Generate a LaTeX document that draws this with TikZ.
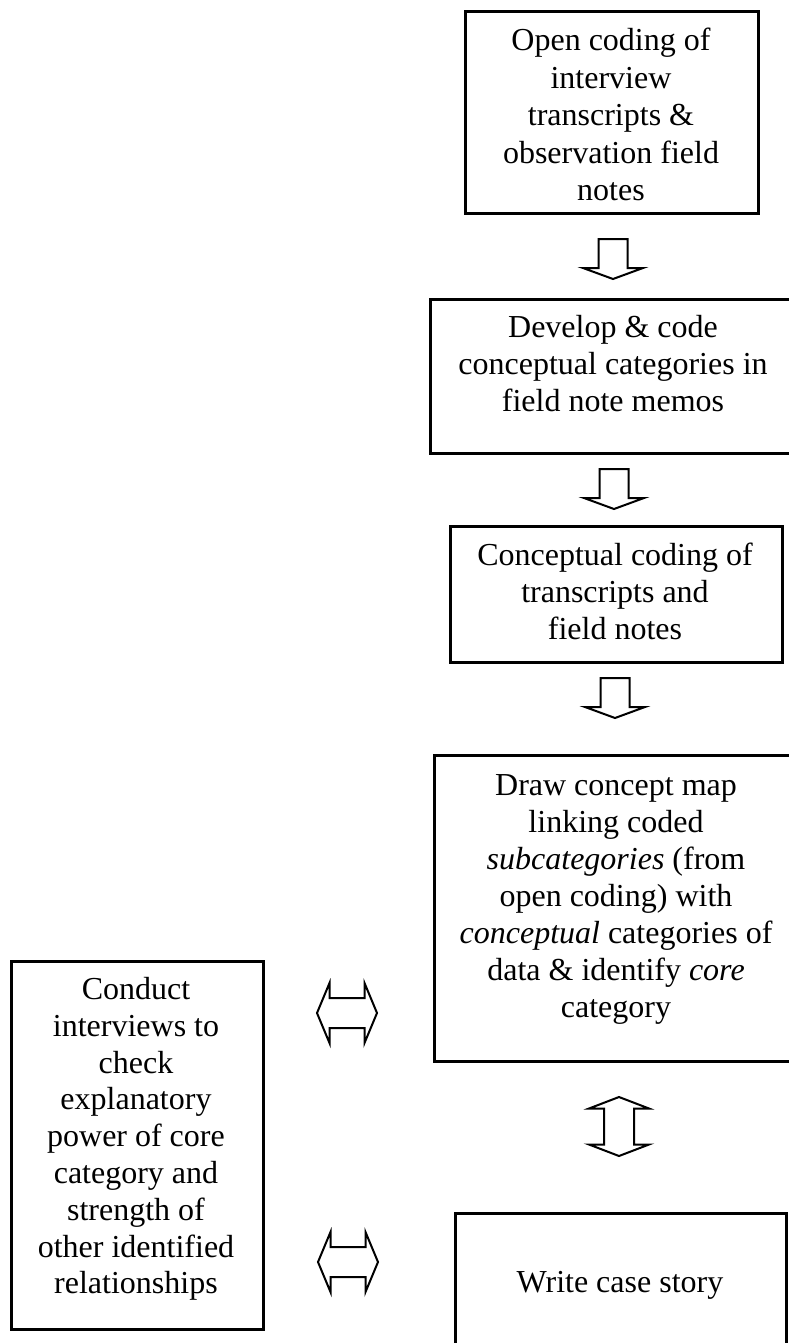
\documentclass[tikz,border=0pt]{standalone}
\usepackage{fontspec}
\setmainfont{Liberation Serif}
\begin{document}
\begin{tikzpicture}[x=1pt,y=-1pt,
  box/.style={draw, line width=2.6pt, inner sep=0pt, anchor=north west},
  txt/.style={align=center, inner sep=0pt, anchor=north,
    font=\fontsize{32}{37}\selectfont,
    execute at begin node={\rule{0pt}{23pt}}},
  blk/.style={draw, line width=2pt, fill=white, line join=miter},
  downarr/.pic={\draw[blk] (-14.5,0) -- (14.5,0) -- (14.5,29) -- (30,29) -- (0,40)
      -- (-30,29) -- (-14.5,29) -- cycle;},
  hdbl/.pic={\draw[blk] (-17.5,-15) -- (17.5,-15) -- (17.5,-30) -- (30,0) -- (17.5,30)
      -- (17.5,15) -- (-17.5,15) -- (-17.5,30) -- (-30,0) -- (-17.5,-30) -- cycle;},
  vdbl/.pic={\draw[blk] (-15,-18) -- (-30,-18) -- (0,-29.5) -- (30,-18) -- (15,-18)
      -- (15,18) -- (30,18) -- (0,29.5) -- (-30,18) -- (-15,18) -- cycle;}]
\fill[white] (0,0) rectangle (789,1343);
\useasboundingbox (0,0) rectangle (789,1343);

% boxes
\node[box, minimum width=293pt, minimum height=202pt] (b1) at (464,10) {};
\node[box, minimum width=368pt, minimum height=154pt] (b2) at (429,298) {};
\node[box, minimum width=332pt, minimum height=136pt] (b3) at (449,525) {};
\node[box, minimum width=366pt, minimum height=306pt] (b4) at (433,754) {};
\node[box, minimum width=331pt, minimum height=140pt] (b5) at (454,1212) {};
\node[box, minimum width=252pt, minimum height=368pt] (b6) at (10,960) {};

% texts (north = first baseline - 23)
\node[txt, font=\fontsize{32}{37.5}\selectfont] (t1) at (611,28) {Open coding of\\interview\\transcripts \&\\observation field\\notes};
\node[txt] (t2) at (613,315) {Develop \& code\\conceptual categories in\\field note memos};
\node[txt] (t3) at (615,543) {Conceptual coding of\\transcripts and\\field notes};
\node[txt] (t4) at (616,774) {Draw concept map\\linking coded\\\textit{subcategories} (from\\open coding) with\\\textit{conceptual} categories of\\data \& identify \textit{core}\\category};
\node[txt] (t5) at (620,1269) {Write case story};
\node[txt, font=\fontsize{32}{36.8}\selectfont] (t6) at (136,977) {Conduct\\interviews to\\check\\explanatory\\power of core\\category and\\strength of\\other identified\\relationships};

% block arrows
\coordinate (a1) at (613,239);
\coordinate (a2) at (614,469);
\coordinate (a3) at (615,678);
\coordinate (h1) at (347,1013);
\coordinate (h2) at (348,1262);
\coordinate (v1) at (619,1126.5);
\pic at (a1) {downarr};
\pic at (a2) {downarr};
\pic at (a3) {downarr};
\pic at (h1) {hdbl};
\pic at (h2) {hdbl};
\pic at (v1) {vdbl};
\end{tikzpicture}
\end{document}
